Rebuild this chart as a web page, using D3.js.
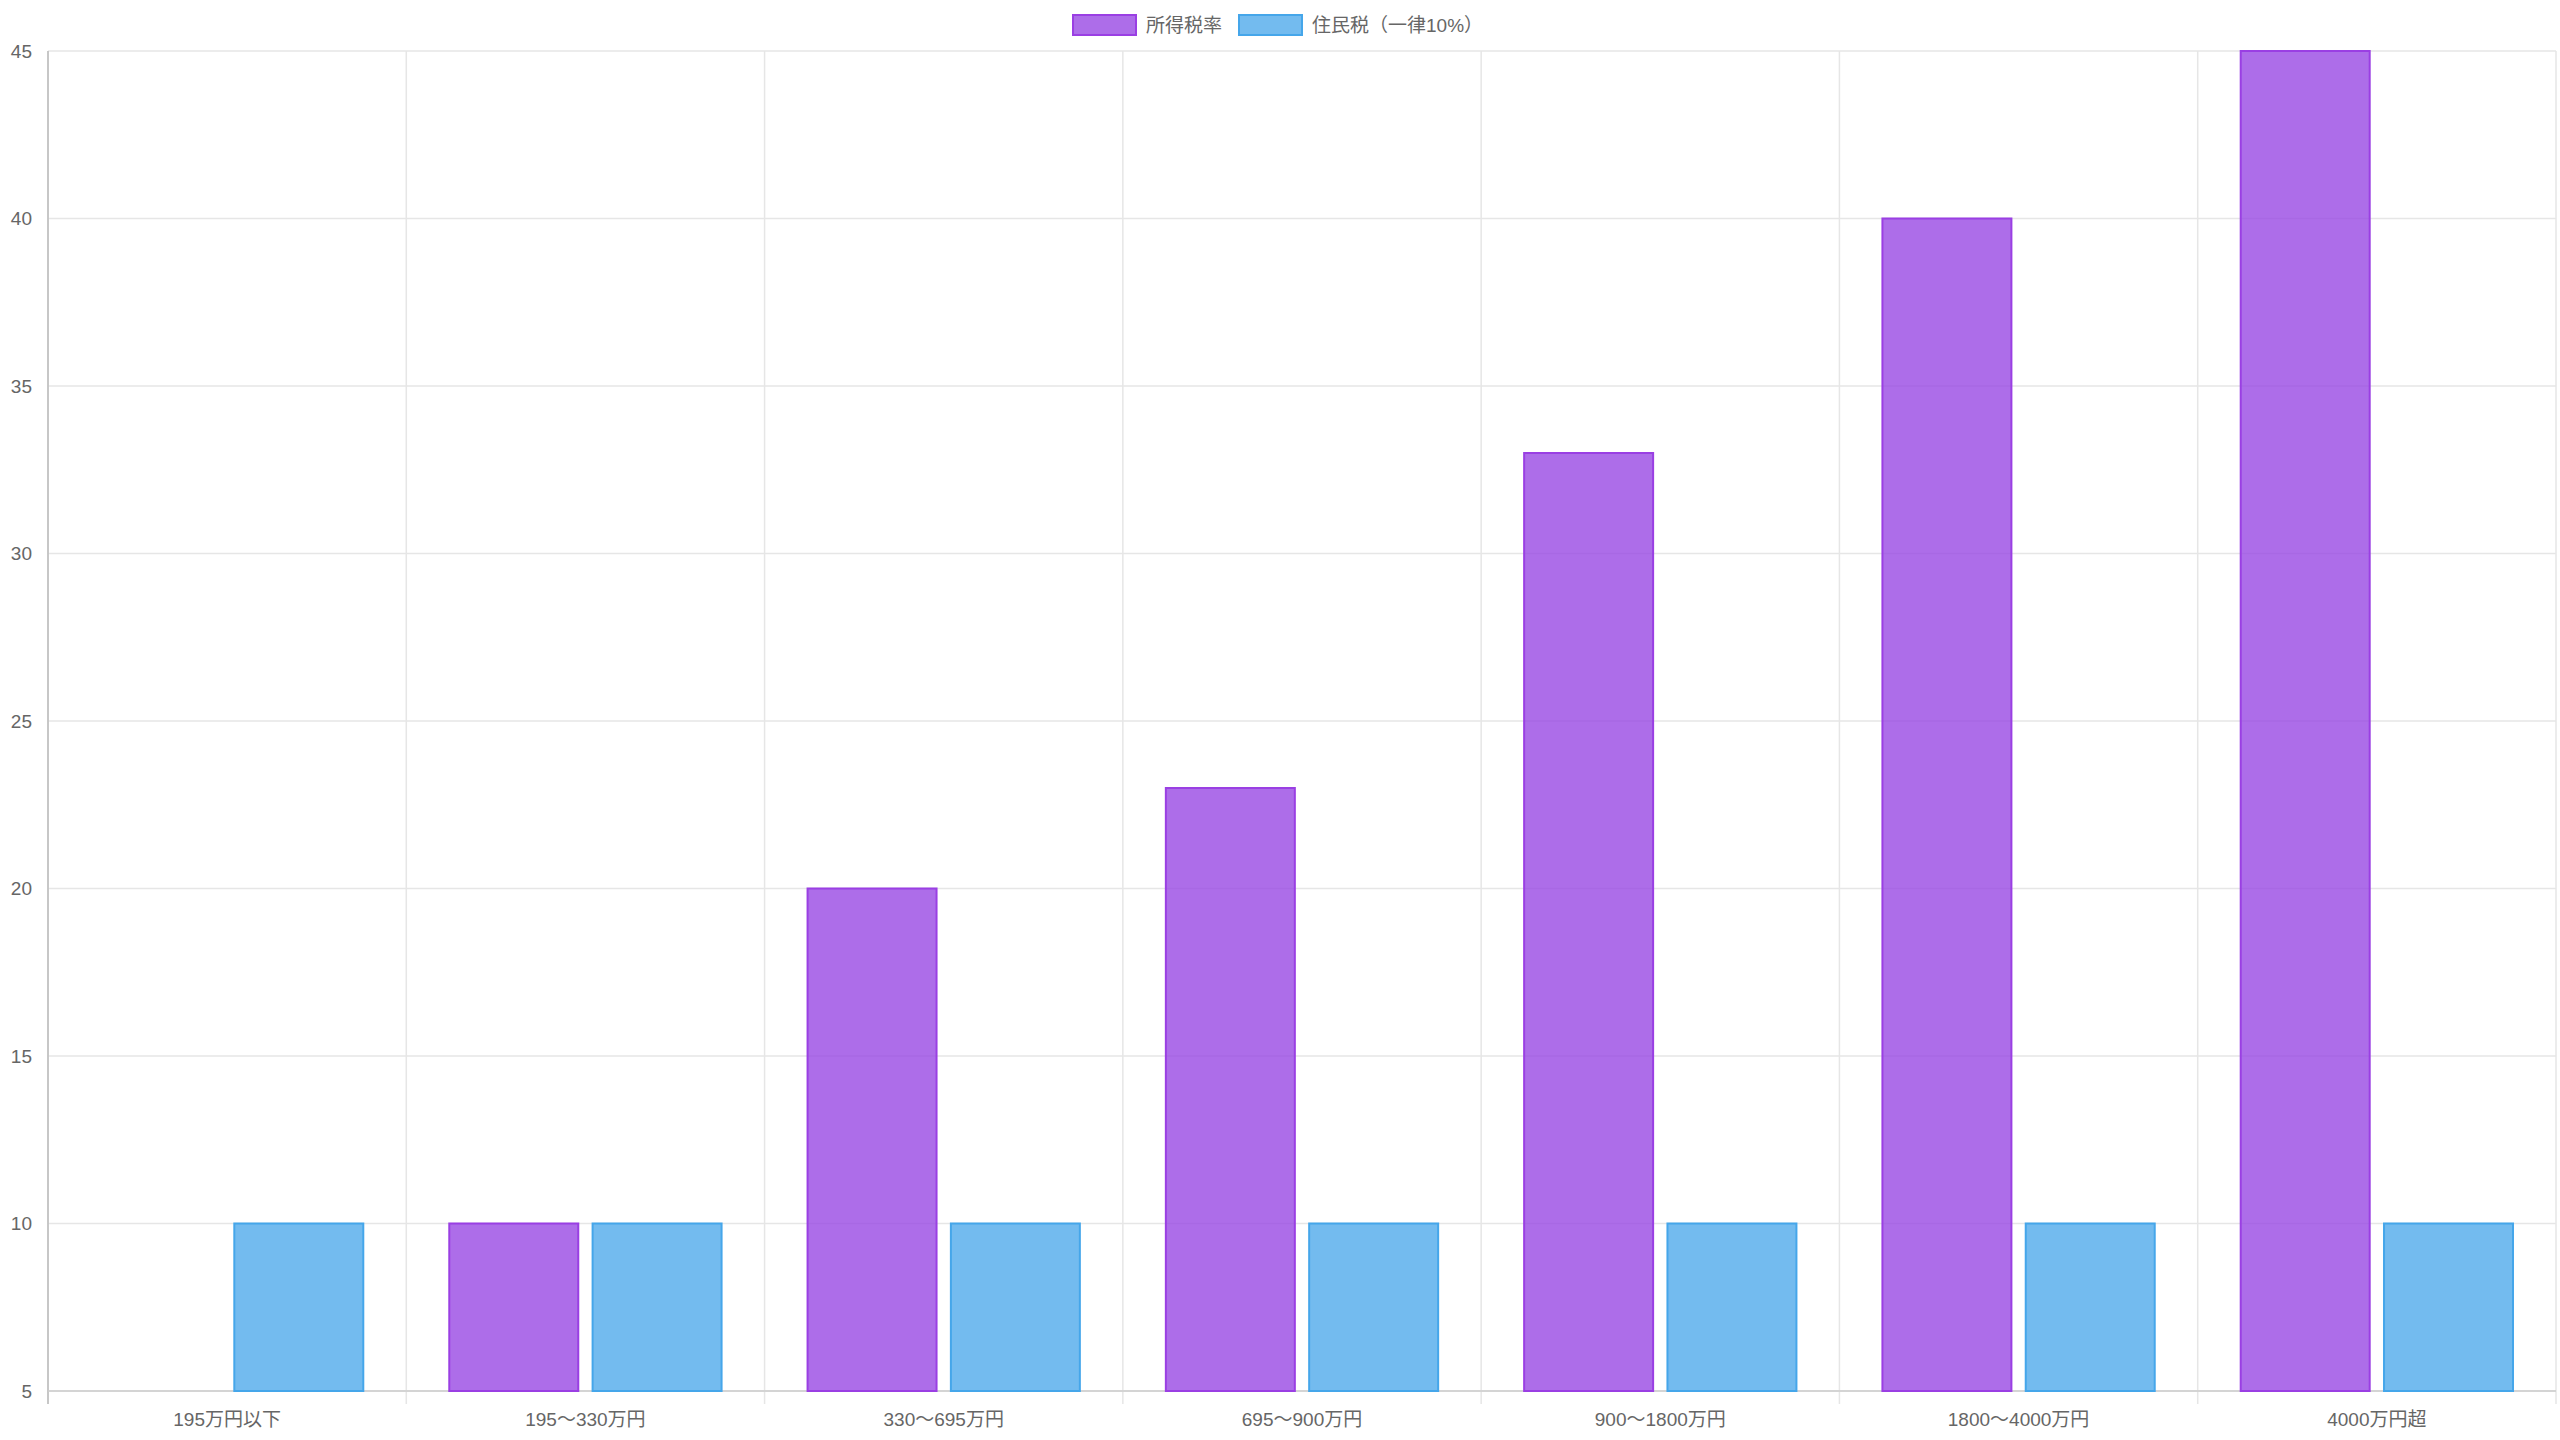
<!DOCTYPE html>
<html><head><meta charset="utf-8">
<script src="https://cdn.jsdelivr.net/npm/d3@7"></script>
<style>body{margin:0;background:#fff}text{font-family:"Liberation Sans","Noto Sans CJK JP",sans-serif;fill:#666}</style>
</head><body><svg id="c" width="2560" height="1440"></svg>
<script>
const categories=["195万円以下","195〜330万円","330〜695万円","695〜900万円","900〜1800万円","1800〜4000万円","4000万円超"];
const incomeTax=[5,10,20,23,33,40,45];
const residentTax=[10,10,10,10,10,10,10];
const seriesNames=["所得税率","住民税（一律10%）"];
const yTicks=[5,10,15,20,25,30,35,40,45];
const fills=["rgba(153,72,228,0.8)","rgba(80,170,235,0.8)"];
const strokes=["#9a3fe3","#45a6ea"];

const svg=d3.select("#c");
const L=48,R=2556,T=51,B=1391;
const x=d3.scaleBand().domain(categories).range([L,R]);
const y=d3.scaleLinear().domain([5,45]).range([B,T]);
const inner=d3.scaleBand().domain([0,1]).range([0,x.bandwidth()]).paddingInner(0).paddingOuter(0);
const g=svg.append("g");
// grid
g.selectAll(".hg").data(yTicks).join("line").attr("x1",L).attr("x2",R).attr("y1",d=>y(d)).attr("y2",d=>y(d)).attr("stroke","#e6e6e6").attr("stroke-width",1.5);
const vx=categories.map(c=>x(c)).concat([R]);
g.selectAll(".vg").data(vx).join("line").attr("x1",d=>d).attr("x2",d=>d).attr("y1",T).attr("y2",B+13).attr("stroke","#e6e6e6").attr("stroke-width",1.5);
g.append("line").attr("x1",L).attr("x2",L).attr("y1",T).attr("y2",B+13).attr("stroke","#bbb").attr("stroke-width",1.5);
g.append("line").attr("x1",L).attr("x2",R).attr("y1",B).attr("y2",B).attr("stroke","#ccc").attr("stroke-width",1.5);
// y labels
g.selectAll(".yl").data(yTicks).join("text").attr("x",L-16).attr("y",d=>y(d)).attr("dy","0.35em").attr("text-anchor","end").attr("font-size",19).text(d=>d);
g.selectAll(".xl").data(categories).join("text").attr("x",d=>x(d)+x.bandwidth()/2).attr("y",1426).attr("text-anchor","middle").attr("font-size",19).text(d=>d);
// bars
const bw=x.bandwidth()*0.4*0.9;
[incomeTax,residentTax].forEach((vals,s)=>{
  g.selectAll(".b"+s).data(vals).join("rect")
   .attr("x",(d,i)=>x(categories[i])+x.bandwidth()*0.1+s*x.bandwidth()*0.4+x.bandwidth()*0.4*0.05)
   .attr("y",d=>y(d)).attr("width",bw).attr("height",d=>y(5)-y(d))
   .attr("fill",fills[s]).attr("stroke",d=>d>5?strokes[s]:"none").attr("stroke-width",2);
});
// legend
const lg=svg.append("g");
const items=[{x:1073,t:seriesNames[0]},{x:1239,t:seriesNames[1]}];
items.forEach((it,s)=>{
  lg.append("rect").attr("x",it.x).attr("y",15).attr("width",63).attr("height",20).attr("fill",fills[s]).attr("stroke",strokes[s]).attr("stroke-width",2);
  lg.append("text").attr("x",it.x+73).attr("y",25).attr("dy","0.35em").attr("font-size",19).text(it.t);
});
</script></body></html>
